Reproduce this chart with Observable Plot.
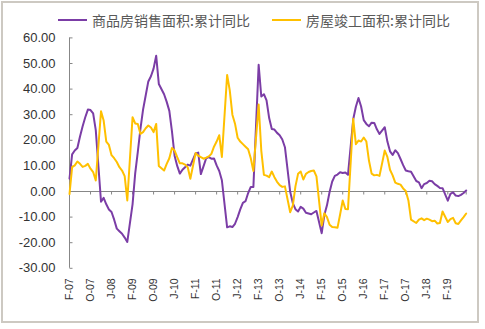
<!DOCTYPE html>
<html>
<head>
<meta charset="utf-8">
<script src="https://cdn.jsdelivr.net/npm/d3@7"></script>
<script src="https://cdn.jsdelivr.net/npm/@observablehq/plot@0.6"></script>
<style>
  body { margin: 0; background: #fff; }
  #wrap { position: relative; width: 485px; height: 329px; overflow: hidden; background: #fff; }
  #frame { position: absolute; left: 1px; top: 1px; width: 478px; height: 322px; box-sizing: border-box;
           border: 2px solid #cdc9c2; pointer-events: none; }
  #legend { position: absolute; left: 0; top: 0; width: 485px; height: 30px;
            font-family: "Noto Sans CJK SC", sans-serif; font-size: 14px; color: #595959; }
  .item { position: absolute; top: 11px; height: 18px; line-height: 18px; display: flex; align-items: center; white-space: nowrap; }
  .swatch { display: inline-block; width: 29px; height: 2px; margin-right: 5px; }
  #chart { position: absolute; left: 0; top: 30px; }
</style>
</head>
<body>
<div id="wrap">
  <div id="legend"></div>
  <div id="chart"></div>
  <div id="frame"></div>
</div>
<script>
// ---- data (cumulative YoY %, Feb–Dec each year; Jan is reported together with Feb) ----
const years = [2007, 2008, 2009, 2010, 2011, 2012, 2013, 2014, 2015, 2016, 2017, 2018, 2019];
const reportMonths = [2, 3, 4, 5, 6, 7, 8, 9, 10, 11, 12];

const seriesNames = ["商品房销售面积:累计同比", "房屋竣工面积:累计同比"];
const seriesColors = ["#7B3DA6", "#FFC000"];

// 商品房销售面积:累计同比
const salesAreaYoY = [
  5, 14.5, 16, 17, 21.5, 25.5, 29, 32, 31.8, 30.5, 24,            // 2007
  -4, -2.5, -5, -7, -8, -11, -14.5, -15.5, -16.5, -18, -19.7,     // 2008
  -5, 7, 15.5, 24.5, 32, 37.5, 43, 45, 48, 53, 42,                 // 2009
  38, 35, 31.5, 23.5, 14, 10, 7, 8.5, 9.5, 10.5, 10.1,             // 2010
  14.9, 15.2, 6.8, 9.8, 12.9, 13.4, 12.8, 12.9, 10.2, 8, 4.4,      // 2011
  -14, -13.6, -13.9, -12.6, -10, -7, -4.4, -3.8, -0.6, 1.8, 1.8,   // 2012
  49.5, 37.1, 38, 35.6, 28.7, 24.4, 24.2, 22.9, 22, 20.3, 17.3,    // 2013
  -0.1, -4.5, -6.9, -7.8, -6, -6.7, -8.3, -8.6, -8.9, -8.2, -7.6,  // 2014
  -16.3, -9.2, -5.4, -0.2, 3.9, 6.1, 6.6, 7.5, 7.2, 7.4, 6.5,      // 2015
  28.2, 33.1, 36.5, 33.2, 27.9, 26.4, 25.5, 26.9, 26.8, 24.3, 22.5, // 2016
  25.1, 19.5, 15.7, 14.3, 16.1, 15, 12.7, 10.3, 8.2, 7.9, 7.7,     // 2017
  4.1, 3.6, 1.3, 2.9, 3.3, 4.2, 4, 2.9, 2.2, 1.4, 1.3,             // 2018
  -3.6, -0.9, -0.3, -1.6, -1.8, -1.3, -0.6, 0.4                    // 2019 (to Sep)
];

// 房屋竣工面积:累计同比
const completedAreaYoY = [
  -1, 9.5, 10.2, 11.7, 10.8, 9.6, 10, 10.8, 8.9, 7.6, 4.3,         // 2007
  31.3, 27.7, 19.5, 18.2, 14.2, 13, 11.5, 9.5, 8.2, 6, -3.5,       // 2008
  29, 26.6, 26.4, 22.5, 23.2, 24.7, 25.8, 25, 23.2, 26.4, 10,      // 2009
  8.2, 10.8, 13, 17, 16, 13.4, 11, 11, 10.5, 9.5, 5,               // 2010
  15, 14, 13.4, 12.8, 13.2, 13.7, 14.7, 17.5, 19.5, 22, 13.5,      // 2011
  45.5, 39.5, 30, 26.5, 21, 19.5, 18.5, 17.5, 16.5, 13, 8,         // 2012
  34, 16, 6.5, 6.2, 5.6, 7.8, 5.6, 3.8, 2.5, 1.8, 2,               // 2013
  -8.1, -5.5, 2, 6.9, 7.8, 4.7, 6.9, 7.6, 8, 8.2, 5.9,             // 2014
  -13.3, -8.5, -10, -13, -13.9, -14, -14.2, -9, -3.5, -6.8, -6.9,  // 2015
  28.4, 18.5, 19.9, 19.5, 21.1, 19.5, 12, 7, 6.3, 6.5, 6.1,        // 2016
  16, 13.5, 8.5, 6.3, 3.5, 3, 2.7, 1.2, 0.2, -3.5, -11,            // 2017
  -12.3, -11, -10.5, -11.2, -10.6, -11, -11.6, -11.4, -12.5, -12.3, -7.8, // 2018
  -11.9, -10.8, -10.3, -12.4, -12.7, -11.3, -10, -8.6              // 2019 (to Sep)
];

const yTicks = [-30, -20, -10, 0, 10, 20, 30, 40, 50, 60];
const tickMonths = ["2007-02","2007-10","2008-06","2009-02","2009-10","2010-06","2011-02","2011-10","2012-06",
                    "2013-02","2013-10","2014-06","2015-02","2015-10","2016-06","2017-02","2017-10","2018-06","2019-02"];
const tickLabels = ["F-07","O-07","J-08","F-09","O-09","J-10","F-11","O-11","J-12",
                    "F-13","O-13","J-14","F-15","O-15","J-16","F-17","O-17","J-18","F-19"];

// ---- build table ----
const monthIndex = (yr, mo) => (yr - years[0]) * 12 + (mo - reportMonths[0]);
const rows = [];
let k = 0;
for (const yr of years) {
  for (const mo of reportMonths) {
    if (k >= salesAreaYoY.length) break;
    rows.push({t: monthIndex(yr, mo), sales: salesAreaYoY[k], completed: completedAreaYoY[k]});
    k++;
  }
}
const lastT = rows[rows.length - 1].t;
const tickT = tickMonths.map(s => monthIndex(+s.slice(0, 4), +s.slice(5, 7)));
const labelOf = new Map(tickT.map((t, i) => [t, tickLabels[i]]));
const tickMarkT = [...tickT, lastT];

const axisGray = "#878787";
const tickMark = (dx, dy) => ({draw(ctx) { ctx.moveTo(0, 0); ctx.lineTo(dx, dy); }});

// ---- legend ----
const legend = document.getElementById("legend");
const legendLeft = [58, 272];
seriesNames.forEach((name, i) => {
  const it = document.createElement("div");
  it.className = "item";
  it.style.left = legendLeft[i] + "px";
  const sw = document.createElement("span");
  sw.className = "swatch";
  sw.style.background = seriesColors[i];
  it.appendChild(sw);
  it.appendChild(document.createTextNode(name));
  legend.appendChild(it);
});

// ---- chart ----
const chart = Plot.plot({
  width: 485,
  height: 299,
  marginLeft: 69,
  marginRight: 19.3,
  marginTop: 7.4,
  marginBottom: 61.2,
  style: {background: "transparent", fontFamily: "'Liberation Sans', Arial, sans-serif", overflow: "visible"},
  x: {type: "linear", domain: [0, lastT], label: null},
  y: {domain: [-30, 60], label: null},
  marks: [
    Plot.ruleX([0], {stroke: axisGray}),
    Plot.ruleY([0], {stroke: axisGray}),
    Plot.dot(yTicks, {x: () => 0, y: d => d, symbol: tickMark(3, 0), stroke: axisGray, fill: "none", strokeWidth: 1}),
    Plot.dot(tickMarkT, {x: d => d, y: () => 0, symbol: tickMark(0, 3), stroke: axisGray, fill: "none", strokeWidth: 1}),
    Plot.axisY(yTicks, {tickSize: 0, tickPadding: 14, tickFormat: d => d.toFixed(2), fontSize: 13, color: "#333", label: null}),
    Plot.axisX(tickT, {tickSize: 0, tickPadding: 10, tickRotate: -90, tickFormat: t => labelOf.get(t), fontSize: 10.5, color: "#333", label: null}),
    Plot.line(rows, {x: "t", y: "sales", stroke: seriesColors[0], strokeWidth: 2}),
    Plot.line(rows, {x: "t", y: "completed", stroke: seriesColors[1], strokeWidth: 2})
  ]
});
document.getElementById("chart").appendChild(chart);
</script>
</body>
</html>
